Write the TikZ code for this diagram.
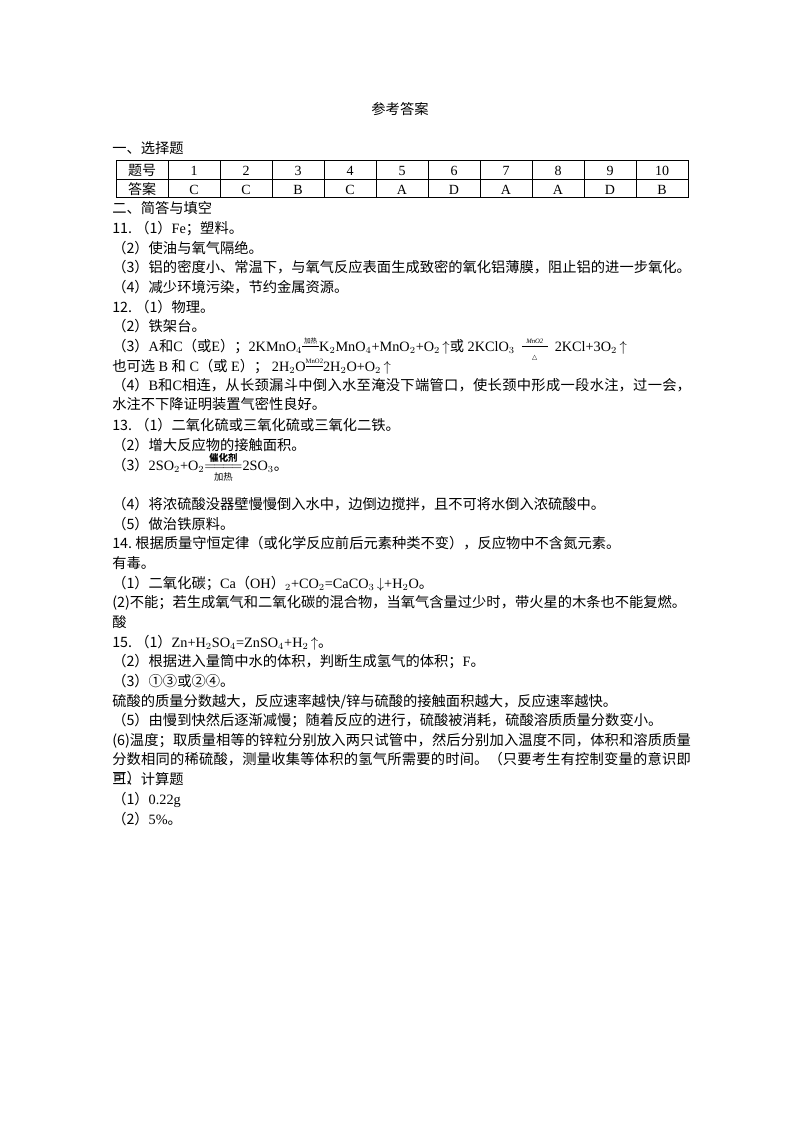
\documentclass[tikz,border=0pt]{standalone}
\usepackage{amsmath}
\usepackage{fontspec}
\setmainfont{Liberation Serif}
\newfontfamily\cjk{Noto Sans CJK SC}
\newfontfamily\djv{DejaVu Sans}
\XeTeXlinebreaklocale "zh"
\XeTeXlinebreakskip=0pt plus 1pt
\begin{document}
\begin{tikzpicture}[x=0.75pt,y=-0.75pt,
  ln/.style={anchor=base west,inner sep=0pt,font=\fontsize{10.7pt}{13pt}\selectfont\cjk},
  cell/.style={anchor=base,inner sep=0pt,font=\fontsize{10.5pt}{13pt}\selectfont}]
\useasboundingbox (0,0) rectangle (800,1132);
\node[anchor=base,inner sep=0pt,font=\fontsize{10.7pt}{13pt}\selectfont\cjk] (title) at (400,114) {参考答案};
\node[ln] (s1) at (112,153) {一、选择题};
% table
\draw[line width=0.6pt] (116,160) rectangle (688,197);
\draw[line width=0.6pt] (116,179) -- (688,179);
\foreach \i in {1,...,10} \draw[line width=0.6pt] (116+\i*52,160) -- (116+\i*52,197);
\node[cell] (h0) at (142,175) {\cjk 题号};
\node[cell] (a0) at (142,194) {\cjk 答案};
\foreach \n/\a [count=\i] in {1/C,2/C,3/B,4/C,5/A,6/D,7/A,8/A,9/D,10/B}{
  \node[cell] (h\i) at (142+\i*52,175) {\n};
  \node[cell] (a\i) at (142+\i*52,194) {\a};}
\node[ln] (s2) at (112,213) {二、简答与填空};
\node[ln] (l1) at (112,233) {11.\ （1）\rmfamily Fe\cjk；塑料。};
\node[ln] (l2) at (112,253) {（2）使油与氧气隔绝。};
\node[ln] (l3) at (112,272) {（3）铝的密度小、常温下，与氧气反应表面生成致密的氧化铝薄膜，阻止铝的进一步氧化。};
\node[ln] (l4) at (112,292) {（4）减少环境污染，节约金属资源。};
\node[ln] (l5) at (112,312) {12.\ （1）物理。};
\node[ln] (l6) at (112,331) {（2）铁架台。};
\node[ln] (l7) at (112,351) {（3）\rmfamily A\cjk 和\rmfamily C\cjk（或\rmfamily E\cjk）；\rmfamily 2KMnO$_4$$\overset{\text{\cjk\tiny 加热}}{\rule[0.3em]{1.2em}{0.3pt}}$K$_2$MnO$_4$+MnO$_2$+O$_2$\,$\uparrow$\cjk 或\rmfamily\ 2KClO$_3$\ \ $\overset{\text{\tiny\itshape MnO2}}{\underset{\text{\djv\tiny △}}{\rule[0.3em]{1.8em}{0.3pt}}}$\ \ 2KCl+3O$_2$\,$\uparrow$};
\node[ln] (l8) at (112,371) {也可选\rmfamily\ B \cjk 和\rmfamily\ C\cjk（或\rmfamily\ E\cjk）；\rmfamily\ 2H$_2$O$\overset{\text{\tiny MnO2}}{\rule[0.3em]{1.2em}{0.3pt}}$2H$_2$O+O$_2$\,$\uparrow$};
\node[ln] (l9) at (112,390) {\parbox[t]{434pt}{\baselineskip=14.6pt（4）\rmfamily B\cjk 和\rmfamily C\cjk 相连，从长颈漏斗中倒入水至淹没下端管口，使长颈中形成一段水注，过一会，水注不下降证明装置气密性良好。}};
\node[ln] (l11) at (112,430) {13.\ （1）二氧化硫或三氧化硫或三氧化二铁。};
\node[ln] (l12) at (112,450) {（2）增大反应物的接触面积。};
\node[ln] (l13) at (112,470) {（3）\rmfamily 2SO$_2$+O$_2$$\overset{\text{\cjk\scriptsize\bfseries 催化剂}}{\underset{\text{\cjk\scriptsize 加热}}{=\!=\!=\!=}}$2SO$_3$\cjk 。};
\node[ln] (l14) at (112,509) {（4）将浓硫酸没器壁慢慢倒入水中，边倒边搅拌，且不可将水倒入浓硫酸中。};
\node[ln] (l15) at (112,529) {（5）做治铁原料。};
\node[ln] (l16) at (112,548) {14.\ 根据质量守恒定律（或化学反应前后元素种类不变），反应物中不含氮元素。};
\node[ln] (l17) at (112,568) {有毒。};
\node[ln] (l18) at (112,588) {（1）二氧化碳；\rmfamily Ca\cjk（\rmfamily OH\cjk）\rmfamily$_2$+CO$_2$=CaCO$_3$\,$\downarrow$+H$_2$O\cjk 。};
\node[ln] (l19) at (112,607) {(2)不能；若生成氧气和二氧化碳的混合物，当氧气含量过少时，带火星的木条也不能复燃。};
\node[ln] (l20) at (112,627) {酸};
\node[ln] (l21) at (112,647) {15.\ （1）\rmfamily Zn+H$_2$SO$_4$=ZnSO$_4$+H$_2$\,$\uparrow$\cjk 。};
\node[ln] (l22) at (112,666) {（2）根据进入量筒中水的体积，判断生成氢气的体积；\rmfamily F\cjk 。};
\node[ln] (l23) at (112,686) {（3）①③或②④。};
\node[ln] (l24) at (112,706) {硫酸的质量分数越大，反应速率越快/锌与硫酸的接触面积越大，反应速率越快。};
\node[ln] (l25) at (112,725) {（5）由慢到快然后逐渐减慢；随着反应的进行，硫酸被消耗，硫酸溶质质量分数变小。};
\node[ln] (l26) at (112,745) {\parbox[t]{434pt}{\baselineskip=14.6pt(6)温度；取质量相等的锌粒分别放入两只试管中，然后分别加入温度不同，体积和溶质质量分数相同的稀硫酸，测量收集等体积的氢气所需要的时间。（只要考生有控制变量的意识即可）}};
\node[ln] (s3) at (112,784) {三、计算题};
\node[ln] (c1) at (112,804) {（1）\rmfamily 0.22g};
\node[ln] (c2) at (112,824) {（2）\rmfamily 5\%\cjk 。};
\end{tikzpicture}
\end{document}
